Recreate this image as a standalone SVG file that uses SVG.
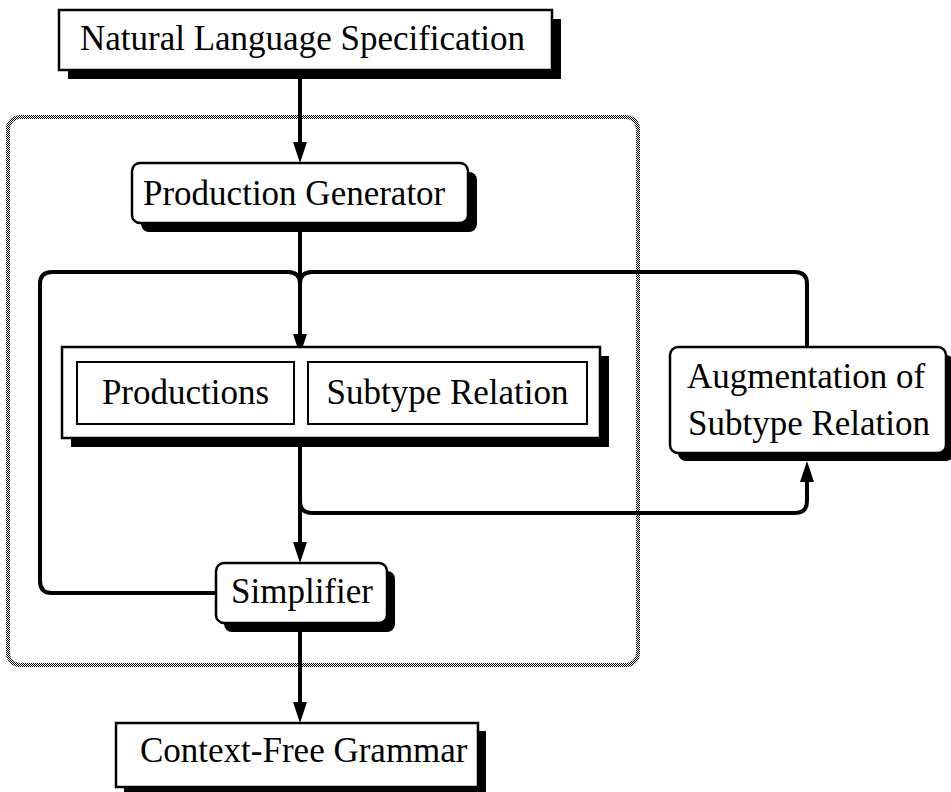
<svg xmlns="http://www.w3.org/2000/svg" width="951" height="792" viewBox="0 0 951 792">
<defs>
<pattern id="dots" width="2" height="2" patternUnits="userSpaceOnUse"><rect width="2" height="2" fill="#fff"/><rect width="1" height="1" fill="#000"/><rect x="1" y="1" width="1" height="1" fill="#000"/></pattern>
<marker id="ah" viewBox="0 0 21 14" refX="0" refY="7" markerWidth="21" markerHeight="14" markerUnits="userSpaceOnUse" orient="auto"><path d="M0,0 L21,7 L0,14 z" fill="#000"/></marker>
</defs>
<style>
.box{fill:#fff;stroke:#000;stroke-width:2.5}
.shadow{fill:#000}
.inner{fill:#fff;stroke:#000;stroke-width:2}
.lbl{font-family:"Liberation Serif","Times New Roman",serif;font-size:35px;fill:#000}
.mid{text-anchor:middle}
.conn{fill:none;stroke:#000;stroke-width:4}
.arrow{marker-end:url(#ah)}
</style>
<rect x="0" y="0" width="951" height="792" fill="#fff"/>
<rect id="frame" x="8" y="117" width="630" height="548" rx="12" fill="none" stroke="url(#dots)" stroke-width="4"/>
<g id="connectors">
<path class="conn arrow" d="M300,70 V142"/>
<path class="conn arrow" d="M300,223 V334"/>
<path class="conn" d="M216,593 H52 Q40,593 40,581 V284 Q40,272 52,272 H288 Q300,272 300,284"/>
<path class="conn" d="M807,347 V284 Q807,272 795,272 H312 Q300,272 300,284"/>
<path class="conn arrow" d="M300,438 V542"/>
<path class="conn arrow" d="M300,501 Q300,513 312,513 H795 Q807,513 807,501 V482"/>
<path class="conn arrow" d="M300,623 V702"/>
</g>
<g id="nls">
<rect class="shadow" x="68" y="19" width="493" height="60"/>
<rect class="box" x="59" y="10" width="493" height="60"/>
<text class="lbl" x="80" y="50">Natural Language Specification</text>
</g>
<g id="production-generator">
<rect class="shadow" x="141" y="172" width="336" height="60" rx="8"/>
<rect class="box" x="132" y="163" width="336" height="60" rx="8"/>
<text class="lbl" x="143" y="205">Production Generator</text>
</g>
<g id="store">
<rect class="shadow" x="71" y="356" width="538" height="91"/>
<rect class="box" x="62" y="347" width="538" height="91"/>
<g id="productions">
<rect class="inner" x="77" y="362" width="217" height="62"/>
<text class="lbl mid" x="185.5" y="404">Productions</text>
</g>
<g id="subtype-relation">
<rect class="inner" x="308" y="362" width="279" height="62"/>
<text class="lbl mid" x="447.5" y="404">Subtype Relation</text>
</g>
</g>
<g id="augmentation">
<rect class="shadow" x="678" y="355" width="276" height="106" rx="8"/>
<rect class="box" x="670" y="347" width="276" height="106" rx="8"/>
<text class="lbl" x="687" y="388">Augmentation of</text>
<text class="lbl" x="688" y="435">Subtype Relation</text>
</g>
<g id="simplifier">
<rect class="shadow" x="224" y="571" width="171" height="61" rx="8"/>
<rect class="box" x="216" y="563" width="171" height="60" rx="8"/>
<text class="lbl" x="231" y="603">Simplifier</text>
</g>
<g id="cfg">
<rect class="shadow" x="124" y="731" width="362" height="64"/>
<rect class="box" x="116" y="723" width="362" height="64"/>
<text class="lbl" x="140" y="762">Context-Free Grammar</text>
</g>
</svg>
